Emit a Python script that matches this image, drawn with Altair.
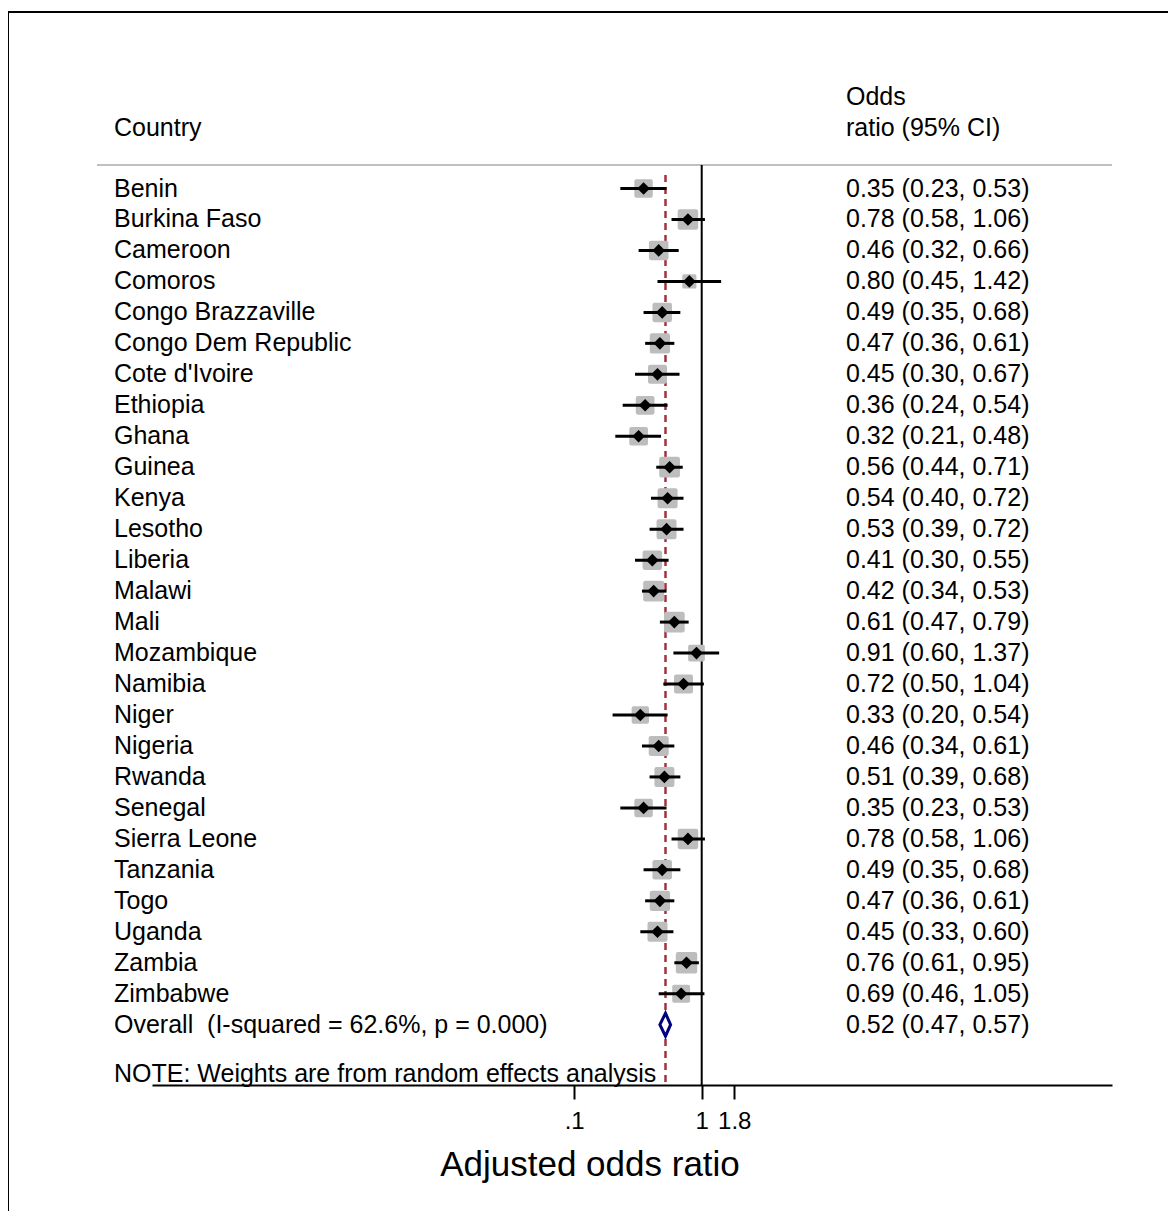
import altair as alt
import pandas as pd

countries = ["Benin", "Burkina Faso", "Cameroon", "Comoros", "Congo Brazzaville",
             "Congo Dem Republic", "Cote d'Ivoire", "Ethiopia", "Ghana", "Guinea",
             "Kenya", "Lesotho", "Liberia", "Malawi", "Mali", "Mozambique", "Namibia",
             "Niger", "Nigeria", "Rwanda", "Senegal", "Sierra Leone", "Tanzania",
             "Togo", "Uganda", "Zambia", "Zimbabwe"]
odds = [0.35, 0.78, 0.46, 0.80, 0.49, 0.47, 0.45, 0.36, 0.32, 0.56, 0.54, 0.53, 0.41,
        0.42, 0.61, 0.91, 0.72, 0.33, 0.46, 0.51, 0.35, 0.78, 0.49, 0.47, 0.45, 0.76, 0.69]
lower = [0.23, 0.58, 0.32, 0.45, 0.35, 0.36, 0.30, 0.24, 0.21, 0.44, 0.40, 0.39, 0.30,
         0.34, 0.47, 0.60, 0.50, 0.20, 0.34, 0.39, 0.23, 0.58, 0.35, 0.36, 0.33, 0.61, 0.46]
upper = [0.53, 1.06, 0.66, 1.42, 0.68, 0.61, 0.67, 0.54, 0.48, 0.71, 0.72, 0.72, 0.55,
         0.53, 0.79, 1.37, 1.04, 0.54, 0.61, 0.68, 0.53, 1.06, 0.68, 0.61, 0.60, 0.95, 1.05]
# estimated study weights (%)
weights = [3.4, 4.2, 3.8, 2.0, 3.8, 4.1, 3.6, 3.5, 3.5, 4.3, 4.0, 4.0, 3.8, 4.4, 4.3,
           2.8, 3.6, 3.0, 4.0, 4.0, 3.4, 4.2, 3.8, 4.1, 4.0, 4.6, 3.2]

overall_label = "Overall \u00a0(I-squared = 62.6%, p = 0.000)"
overall_or, overall_lo, overall_hi = 0.52, 0.47, 0.57

tick_values = [0.1, 1, 1.8]
tick_labels = [".1", "1", "1.8"]

FONT = "Liberation Sans"
FS = 25
W, H = 960, 1065

n = len(countries)
df = pd.DataFrame({
    "country": countries, "or": odds, "lo": lower, "hi": upper, "w": weights,
    "idx": list(range(n)),
})
df["txt"] = [f"{o:.2f} ({l:.2f}, {h:.2f})" for o, l, h in zip(odds, lower, upper)]

labels_df = pd.DataFrame({
    "label": countries + [overall_label],
    "txt": list(df["txt"]) + [f"{overall_or:.2f} ({overall_lo:.2f}, {overall_hi:.2f})"],
    "idx": list(range(n + 1)),
})

ov_half = 0.37
diamond_df = pd.DataFrame({
    "x": [overall_lo, overall_or, overall_hi],
    "y": [n, n - ov_half, n],
    "y2": [n, n + ov_half, n],
})

xscale = alt.Scale(type="log", domain=[10 ** -4.3114, 10 ** 3.2180], nice=False)
yscale = alt.Scale(domain=[-5.4408, 28.947], reverse=True, nice=False, zero=False)

label_expr = " : ".join(
    f"datum.value == {v} ? '{t}'" for v, t in zip(tick_values[:-1], tick_labels[:-1])
) + f" : '{tick_labels[-1]}'"

xaxis = alt.Axis(values=tick_values, labelExpr=label_expr, title=None, grid=False,
                 tickSize=14, tickWidth=2, tickColor="black", domainColor="black",
                 domainWidth=2, labelFont=FONT, labelFontSize=24, labelColor="black",
                 labelPadding=22, labelBaseline="middle", labelFlush=False)

one = pd.DataFrame({"a": [0]})

frame_top = alt.Chart(one).mark_rule(color="black", strokeWidth=2).encode(
    x=alt.value(-144), x2=alt.value(1016), y=alt.value(-8))
frame_left = alt.Chart(one).mark_rule(color="black", strokeWidth=2).encode(
    x=alt.value(-144), y=alt.value(-8), y2=alt.value(1200))
header_line = alt.Chart(one).mark_rule(color="#C0C0C0", strokeWidth=2).encode(
    x=alt.value(-55), x2=alt.value(W), y=alt.value(145))

ref_df = pd.DataFrame({"ref": [1.0]})
ref_line = alt.Chart(ref_df).mark_rule(color="black", strokeWidth=2).encode(
    x=alt.X("ref:Q", scale=xscale, axis=xaxis), y=alt.value(145), y2=alt.value(H))

ov_df = pd.DataFrame({"ov": [overall_or]})
ov_line = alt.Chart(ov_df).mark_rule(color="#A3323F", strokeWidth=2.5,
                                     strokeDash=[7, 5]).encode(
    x=alt.X("ov:Q", scale=xscale, axis=xaxis), y=alt.value(155), y2=alt.value(H))

rounded_square = ("M-0.78,-1 L0.78,-1 Q1,-1 1,-0.78 L1,0.78 Q1,1 0.78,1 "
                  "L-0.78,1 Q-1,1 -1,0.78 L-1,-0.78 Q-1,-1 -0.78,-1 Z")
boxes = alt.Chart(df).mark_point(shape=rounded_square, filled=True, color="#BDBDBD",
                                 opacity=1).encode(
    x=alt.X("or:Q", scale=xscale, axis=xaxis),
    y=alt.Y("idx:Q", scale=yscale, axis=None),
    size=alt.Size("w:Q", scale=alt.Scale(domain=[0, 5], range=[0, 500]), legend=None),
)
ci = alt.Chart(df).mark_rule(color="black", strokeWidth=3).encode(
    x=alt.X("lo:Q", scale=xscale, axis=xaxis), x2="hi:Q",
    y=alt.Y("idx:Q", scale=yscale, axis=None),
)
pts = alt.Chart(df).mark_point(shape="diamond", filled=True, color="black",
                               size=160, opacity=1).encode(
    x=alt.X("or:Q", scale=xscale, axis=xaxis),
    y=alt.Y("idx:Q", scale=yscale, axis=None),
)
ov_diamond = alt.Chart(diamond_df).mark_area(fill="white", stroke="#000080",
                                             strokeWidth=3, orient="vertical",
                                             opacity=1).encode(
    x=alt.X("x:Q", scale=xscale, axis=xaxis),
    y=alt.Y("y:Q", scale=yscale, axis=None), y2="y2:Q",
)

country_txt = alt.Chart(labels_df).mark_text(
    align="left", baseline="middle", font=FONT, fontSize=FS, color="black").encode(
    x=alt.value(-38), y=alt.Y("idx:Q", scale=yscale, axis=None), text="label:N")
or_txt = alt.Chart(labels_df).mark_text(
    align="left", baseline="middle", font=FONT, fontSize=FS, color="black").encode(
    x=alt.value(694), y=alt.Y("idx:Q", scale=yscale, axis=None), text="txt:N")


def label(text, x, y, size=FS, align="left"):
    return alt.Chart(one).mark_text(text=text, align=align, baseline="middle",
                                    font=FONT, fontSize=size, color="black").encode(
        x=alt.value(x), y=alt.value(y))


hdr_country = label("Country", -38, 108)
hdr_odds = label("Odds", 694, 77)
hdr_ratio = label("ratio (95% CI)", 694, 108)
note = label("NOTE: Weights are from random effects analysis", -38, 1054)
xtitle = label("Adjusted odds ratio", 438, 1145, size=35, align="center")

chart = alt.layer(
    frame_top, frame_left, header_line, ov_line, ref_line, boxes, ci, pts, ov_diamond,
    country_txt, or_txt, hdr_country, hdr_odds, hdr_ratio, note, xtitle,
).properties(
    width=W, height=H,
    padding={"left": 144, "top": 12, "right": 56, "bottom": 126},
    autosize=alt.AutoSizeParams(type="none"),
).configure_view(stroke=None)

chart.save("out.html", embed_options={"renderer": "svg", "actions": False})
